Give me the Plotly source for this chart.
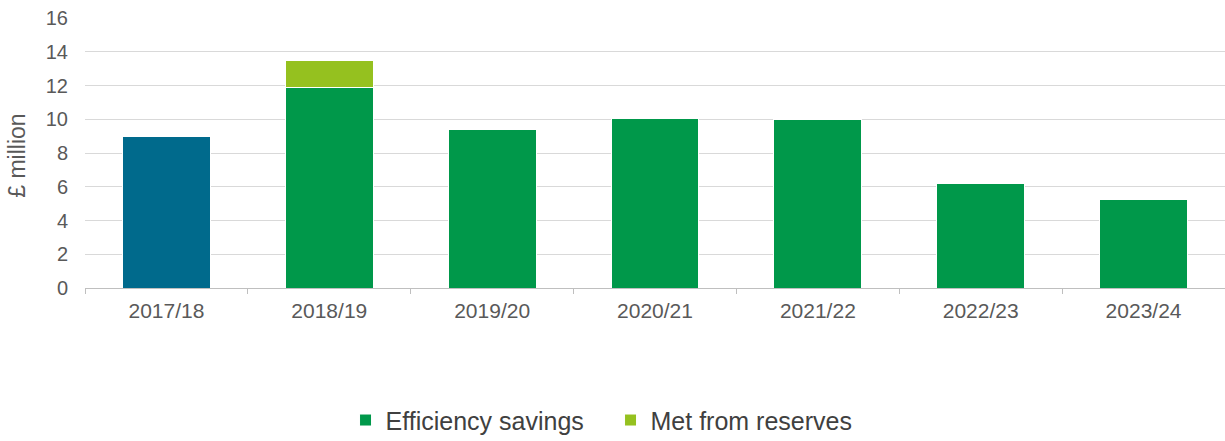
import plotly.graph_objects as go

categories = ["2017/18", "2018/19", "2019/20", "2020/21", "2021/22", "2022/23", "2023/24"]
baseline = [9.0, None, None, None, None, None, None]
efficiency = [None, 11.9, 9.4, 10.05, 10.0, 6.2, 5.25]
reserves = [None, 1.6, None, None, None, None, None]
y_ticks = [0, 2, 4, 6, 8, 10, 12, 14, 16]
y_title = "£ million"

BLUE = "#006A8C"
GREEN = "#00984A"
LIME = "#95C11F"
FONT = "Liberation Sans, Arial, sans-serif"

fig = go.Figure()
fig.add_bar(x=categories, y=baseline, name="2017/18", marker=dict(color=BLUE, line=dict(color="white", width=1)),
            showlegend=False, width=0.54)
fig.add_bar(x=categories, y=efficiency, name="Efficiency savings",
            marker=dict(color=GREEN, line=dict(color="white", width=1)), width=0.54)
fig.add_bar(x=categories, y=reserves, name="Met from reserves",
            marker=dict(color=LIME, line=dict(color="white", width=1)), width=0.54)

fig.add_annotation(text=y_title, textangle=-90, xref="paper", yref="paper",
                   x=-0.0596, y=0.49, xanchor="center", yanchor="middle", showarrow=False,
                   font=dict(size=23, color="#595959", family=FONT))

fig.update_layout(
    barmode="stack",
    width=1225, height=441,
    margin=dict(l=85, r=0, t=18, b=153, autoexpand=False),
    paper_bgcolor="white", plot_bgcolor="white",
    font=dict(family=FONT, color="#595959"),
    legend=dict(orientation="h", x=0.461, xanchor="center", yref="container", y=0.047, yanchor="middle",
                font=dict(size=25, color="#404040"), itemwidth=30, traceorder="normal",
                entrywidth=220),
    xaxis=dict(tickfont=dict(size=21, color="#595959"), showline=True, linecolor="#bfbfbf", linewidth=1,
               tickson="boundaries", ticks="outside", ticklen=5, tickcolor="#bfbfbf", showgrid=False,
               automargin=False, ticklabelstandoff=4),
    yaxis=dict(range=[0, 16], tickvals=y_ticks, tickfont=dict(size=20, color="#595959"),
               gridcolor="#d9d9d9", gridwidth=1, zeroline=False, ticks="", ticklabelstandoff=16,
               automargin=False, ticklabeloverflow="allow"),
)

fig.write_html("out.html", config={"displayModeBar": False},
               post_script="document.body.style.margin='0';document.body.style.overflow='hidden';")
